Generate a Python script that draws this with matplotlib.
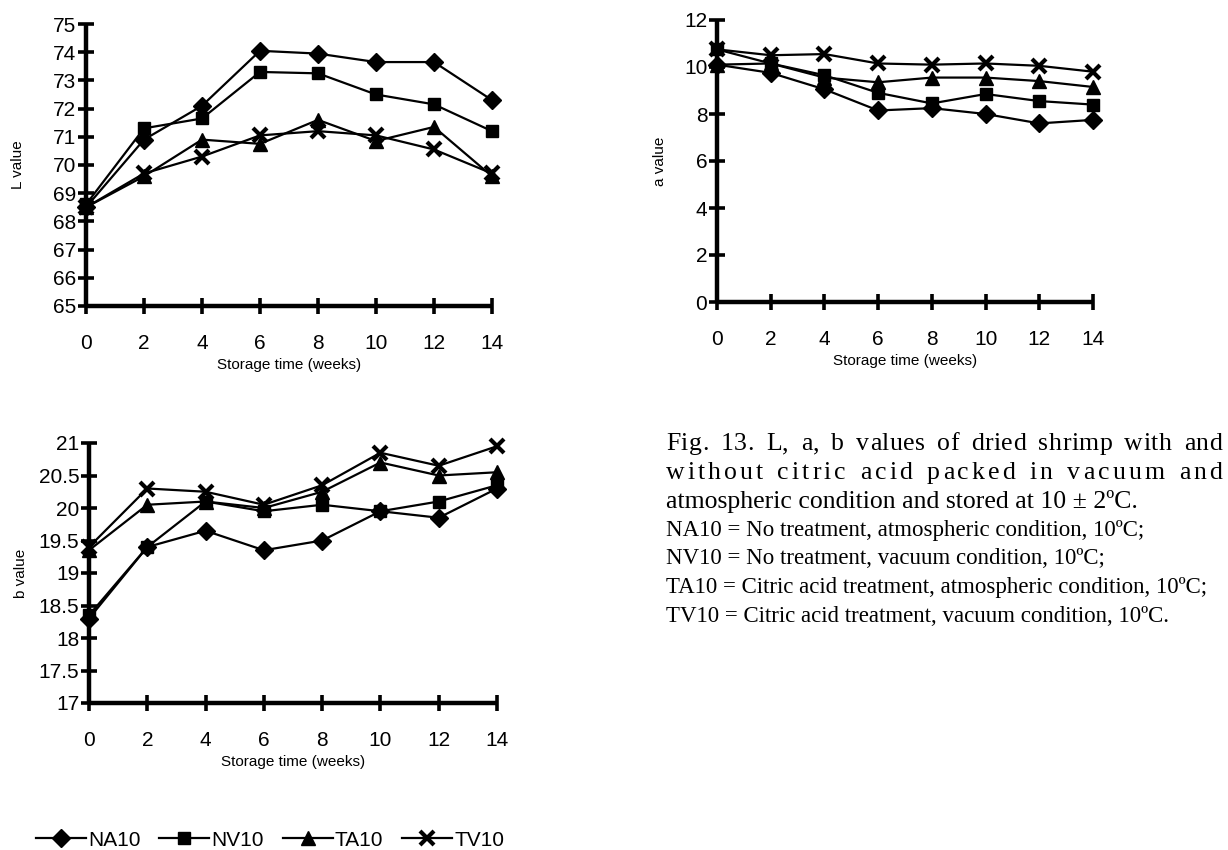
import matplotlib
matplotlib.use("Agg")
import matplotlib.pyplot as plt
import matplotlib.ticker as ticker

plt.rcParams['font.family'] = ['Liberation Sans', 'DejaVu Sans']

# Datos
weeks = [0, 2, 4, 6, 8, 10, 12, 14]
series_names = ['NA10', 'NV10', 'TA10', 'TV10']

L_NA10 = [68.5, 70.9, 72.1, 74.05, 73.95, 73.65, 73.65, 72.3]
L_NV10 = [68.6, 71.3, 71.65, 73.3, 73.25, 72.5, 72.15, 71.2]
L_TA10 = [68.5, 69.6, 70.9, 70.75, 71.6, 70.85, 71.35, 69.6]
L_TV10 = [68.5, 69.7, 70.3, 71.05, 71.2, 71.05, 70.55, 69.7]

a_NA10 = [10.1, 9.75, 9.05, 8.15, 8.25, 8.0, 7.6, 7.75]
a_NV10 = [10.75, 10.15, 9.65, 8.9, 8.45, 8.85, 8.55, 8.4]
a_TA10 = [10.1, 10.15, 9.55, 9.35, 9.55, 9.55, 9.4, 9.15]
a_TV10 = [10.75, 10.5, 10.55, 10.15, 10.1, 10.15, 10.05, 9.8]

b_NA10 = [18.3, 19.4, 19.65, 19.35, 19.5, 19.95, 19.85, 20.3]
b_NV10 = [18.35, 19.4, 20.1, 19.95, 20.05, 19.95, 20.1, 20.35]
b_TA10 = [19.35, 20.05, 20.1, 20.0, 20.25, 20.7, 20.5, 20.55]
b_TV10 = [19.4, 20.3, 20.25, 20.05, 20.35, 20.85, 20.65, 20.95]

caption_main = [
    "Fig. 13. L, a, b values of dried shrimp with and",
    "without citric acid packed in vacuum and",
    "atmospheric condition and stored at 10 \u00b1 2\u00baC.",
]
caption_keys = [
    "NA10 = No treatment, atmospheric condition, 10\u00baC;",
    "NV10 = No treatment, vacuum condition, 10\u00baC;",
    "TA10 = Citric acid treatment, atmospheric condition, 10\u00baC;",
    "TV10 = Citric acid treatment, vacuum condition, 10\u00baC.",
]

# Estilo de marcadores
styles = {
    'NA10': dict(marker='D', markersize=9),
    'NV10': dict(marker='s', markersize=9),
    'TA10': dict(marker='^', markersize=10),
    'TV10': dict(marker='x', markersize=10, markeredgewidth=3),
}

W, H = 1228, 850
fig = plt.figure(figsize=(W / 100, H / 100), dpi=100)


def box(left, right, top, bottom):
    return [left / W, 1 - bottom / H, (right - left) / W, (bottom - top) / H]


def style_axis(ax, ylabel, ypad):
    for s in ['top', 'right']:
        ax.spines[s].set_visible(False)
    for s in ['left', 'bottom']:
        ax.spines[s].set_linewidth(3.2)
        ax.spines[s].set_capstyle('butt')
    ax.set_xlim(0, 14)
    ax.set_xticks(weeks)
    ax.tick_params(axis='both', direction='inout', length=12, width=2.6,
                   labelsize=15)
    ax.tick_params(axis='x', pad=14)
    ax.tick_params(axis='y', pad=1)
    ax.set_xlabel("Storage time (weeks)", fontsize=11, labelpad=4)
    ax.set_ylabel(ylabel, fontsize=11, labelpad=ypad)


def draw_series(ax, data):
    for name, vals in zip(series_names, data):
        ax.plot(weeks, vals, color='black', linewidth=1.6, label=name,
                clip_on=False, zorder=3, **styles[name])


# Grafico L
ax1 = fig.add_axes(box(86, 492, 24, 306))
draw_series(ax1, [L_NA10, L_NV10, L_TA10, L_TV10])
ax1.set_ylim(65, 75)
ax1.set_yticks(range(65, 76))
style_axis(ax1, "L value", 20)

# Grafico a
ax2 = fig.add_axes(box(717, 1093, 20, 302))
draw_series(ax2, [a_NA10, a_NV10, a_TA10, a_TV10])
ax2.set_ylim(0, 12)
ax2.set_yticks(range(0, 13, 2))
style_axis(ax2, "a value", 12)

# Grafico b
ax3 = fig.add_axes(box(89, 497, 443, 703))
draw_series(ax3, [b_NA10, b_NV10, b_TA10, b_TV10])
ax3.set_ylim(17, 21)
ax3.set_yticks([17, 17.5, 18, 18.5, 19, 19.5, 20, 20.5, 21])
ax3.yaxis.set_major_formatter(ticker.FormatStrFormatter('%g'))
style_axis(ax3, "b value", 8)

# Leyenda
handles, labels = ax1.get_legend_handles_labels()
fig.legend(handles, labels, loc='center left', ncol=4,
           bbox_to_anchor=(36 / W, 1 - 840 / H), frameon=False,
           fontsize=15, handlelength=2.4, handletextpad=0.1,
           columnspacing=0.9, borderaxespad=0, borderpad=0)

# Texto de la figura
fig.canvas.draw()
renderer = fig.canvas.get_renderer()
serif = ['Liberation Serif', 'DejaVu Serif']
x0, x1 = 666, 1222


def justified_line(text, y, size, tracking=0.0):
    # cada caracter por separado para poder espaciar letras y palabras
    words = text.split(' ')
    items = []
    for w in words:
        chars = []
        for ch in w:
            t = fig.text(0, 1 - y / H, ch, fontsize=size, family=serif,
                         va='baseline', ha='left')
            chars.append((t, t.get_window_extent(renderer).width))
        items.append(chars)
    word_w = [sum(c[1] for c in chars) + tracking * (len(chars) - 1)
              for chars in items]
    gap = (x1 - x0 - sum(word_w)) / (len(words) - 1)
    x = x0
    for chars, ww in zip(items, word_w):
        cx = x
        for t, cw in chars:
            t.set_x(cx / W)
            cx += cw + tracking
        x += ww + gap


justified_line(caption_main[0], 450, 18.5, tracking=0.5)
justified_line(caption_main[1], 479, 18.5, tracking=3.0)
fig.text(x0 / W, 1 - 508 / H, caption_main[2], fontsize=18.5,
         family=serif, va='baseline')

for i, line in enumerate(caption_keys):
    fig.text(x0 / W, 1 - (536 + 28.5 * i) / H, line, fontsize=16.5,
             family=serif, va='baseline')

plt.savefig("out.png", dpi=100)
